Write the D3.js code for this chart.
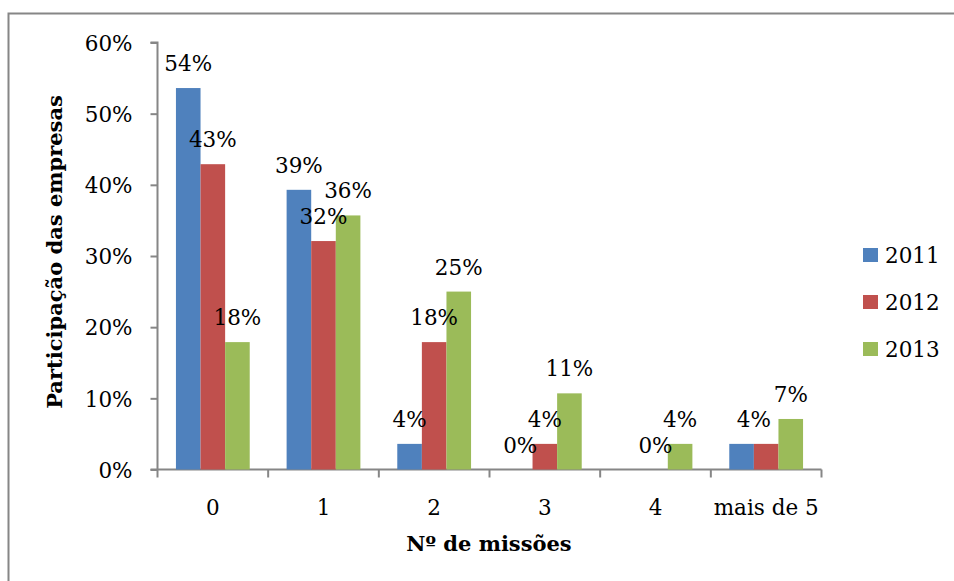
<!DOCTYPE html>
<html>
<head>
<meta charset="utf-8">
<script src="https://cdn.jsdelivr.net/npm/d3@7"></script>
<style>
  html, body { margin: 0; padding: 0; background: #fff; }
  svg { display: block; }
  text { font-family: "DejaVu Serif", serif; fill: #000; }
</style>
</head>
<body>
<svg id="chart" width="954" height="581"></svg>
<script>
const categories = ["0", "1", "2", "3", "4", "mais de 5"];
const seriesNames = ["2011", "2012", "2013"];
const values2011 = [0.536, 0.393, 0.036, 0.0, 0.0, 0.036];
const values2012 = [0.429, 0.321, 0.179, 0.036, 0.0, 0.036];
const values2013 = [0.179, 0.357, 0.25, 0.107, 0.036, 0.071];
const colors = ["#4F81BD", "#C0504D", "#9BBB59"];
const yTicks = [0, 0.1, 0.2, 0.3, 0.4, 0.5, 0.6];
const xTitle = "Nº de missões";
const yTitle = "Participação das empresas";
// labels not shown in the reference: [seriesIndex, categoryIndex]
const hiddenLabels = [[0, 4], [1, 5]];

const series = [values2011, values2012, values2013];

const svg = d3.select("#chart");
const axisColor = "#868686";

// outer border (cropped at right/bottom)
svg.append("rect").attr("x", 8.5).attr("y", 13.5).attr("width", 960).attr("height", 600)
  .attr("fill", "none").attr("stroke", axisColor).attr("stroke-width", 2);

const x0 = 157.5, x1 = 821.5, yBase = 469.5, yTop = 42.5;
const x = d3.scaleBand().domain(categories).range([x0, x1]).paddingInner(0).paddingOuter(0);
const y = d3.scaleLinear().domain([0, 0.6]).range([yBase, yTop]);

const bw = x.bandwidth() / 4.5;
const xs = d3.scaleBand().domain(seriesNames).range([bw * 0.75, bw * 3.75]).padding(0);

// y axis
const yAxis = d3.axisLeft(y).tickValues(yTicks).tickFormat(d3.format(".0%")).tickSize(7).tickPadding(18);
const gy = svg.append("g").attr("transform", `translate(${x0},0)`).call(yAxis);
gy.select(".domain").attr("stroke", axisColor).attr("stroke-width", 2).attr("d", `M-7,${yTop}H0V${yBase}`);
gy.selectAll(".tick line").attr("stroke", axisColor).attr("stroke-width", 2);
gy.selectAll(".tick text").style("font-family", "DejaVu Serif").style("font-size", "21.5px").attr("fill", "#000").attr("dy", "0.36em");

// x axis
const xAxis = d3.axisBottom(x).tickSize(0).tickPadding(30);
const gx = svg.append("g").attr("transform", `translate(0,${yBase})`).call(xAxis);
gx.select(".domain").attr("stroke", axisColor).attr("stroke-width", 2).attr("d", `M${x0 - 7},0H${x1}`);
gx.selectAll(".tick text").style("font-family", "DejaVu Serif").style("font-size", "21.5px").attr("fill", "#000");
const seps = categories.map((c) => x(c)).concat([x1]);
gx.selectAll("line.sep").data(seps).enter().append("line").attr("class", "sep")
  .attr("x1", d => d).attr("x2", d => d).attr("y1", 0).attr("y2", 8)
  .attr("stroke", axisColor).attr("stroke-width", 2);

// bars
series.forEach((vals, si) => {
  svg.append("g").selectAll("rect").data(vals).enter().append("rect")
    .attr("x", (d, i) => x(categories[i]) + xs(seriesNames[si]))
    .attr("y", d => y(d))
    .attr("width", xs.bandwidth())
    .attr("height", d => y(0) - y(d))
    .attr("fill", colors[si]);
});

// labels
const isHidden = (si, ci) => hiddenLabels.some(h => h[0] === si && h[1] === ci);
series.forEach((vals, si) => {
  const items = vals.map((v, ci) => ({ v, ci })).filter(o => !isHidden(si, o.ci));
  svg.append("g").selectAll("text").data(items).enter().append("text")
    .attr("x", o => {
      let cx = x(categories[o.ci]) + xs(seriesNames[si]) + xs.bandwidth() / 2;
      if (o.ci === 5 && si === 0) cx += xs.bandwidth() / 2;
      return cx;
    })
    .attr("y", o => y(o.v) - 17)
    .attr("text-anchor", "middle")
    .style("font-size", "21.5px")
    .text(o => d3.format(".0%")(o.v));
});

// axis titles
svg.append("text").attr("x", 489).attr("y", 551).attr("text-anchor", "middle")
  .style("font-size", "21px").style("font-weight", "bold").text(xTitle);
svg.append("text").attr("transform", "translate(62,252) rotate(-90)").attr("text-anchor", "middle")
  .style("font-size", "21px").style("font-weight", "bold").text(yTitle);

// legend
const lg = svg.append("g");
seriesNames.forEach((s, i) => {
  const cy = 255 + i * 47;
  lg.append("rect").attr("x", 863).attr("y", cy - 7).attr("width", 15).attr("height", 14).attr("fill", colors[i]);
  lg.append("text").attr("x", 885).attr("y", cy).attr("dy", "0.36em").style("font-size", "21.5px").text(s);
});
</script>
</body>
</html>
